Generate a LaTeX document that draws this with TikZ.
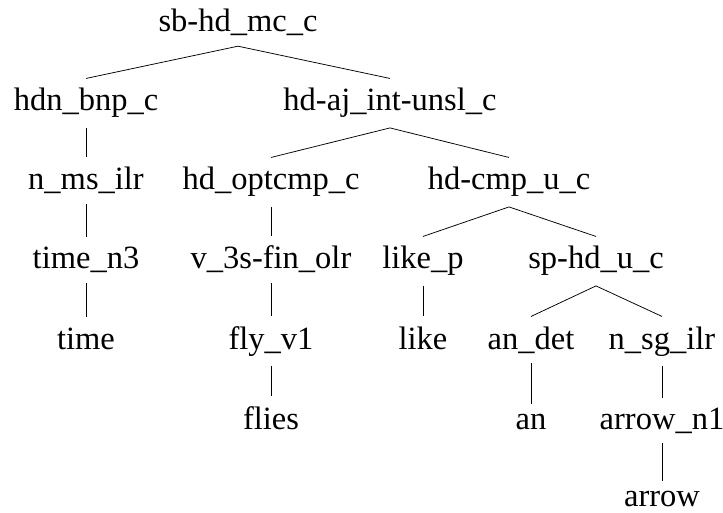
\documentclass[tikz,border=0pt]{standalone}
% Palatino (URW Palladio) when present, otherwise a Times-metric serif
\newif\ifpalladio
\IfFileExists{pplr8t.tfm}{\IfFileExists{uplr8a.pfb}{\palladiotrue}{}}{}
\ifpalladio
  \usepackage[T1]{fontenc}
  \renewcommand{\rmdefault}{ppl}
  \newcommand{\lblsize}{\fontsize{28.7}{34}\selectfont}
\else
  \usepackage{fontspec}
  \setmainfont{Liberation Serif}
  \newcommand{\lblsize}{\fontsize{32.5}{38}\selectfont}
\fi
\begin{document}
\begin{tikzpicture}[x=1pt,y=-1pt,
  lbl/.style={anchor=base, inner xsep=0pt, inner ysep=0pt,
    outer xsep=0pt, outer ysep=10pt, font=\lblsize},
  branch/.style={draw=black, line width=0.75pt}]
\useasboundingbox (0,0) rectangle (723,513);
% level 0
\node[lbl] (root) at (238,32) {sb-hd\_mc\_c};
% level 1
\node[lbl] (hdn) at (86,111) {hdn\_bnp\_c};
\node[lbl] (hdaj) at (390,111) {hd-aj\_int-unsl\_c};
% level 2
\node[lbl] (nms) at (86,190) {n\_ms\_ilr};
\node[lbl] (opt) at (271,190) {hd\_optcmp\_c};
\node[lbl] (cmp) at (509,190) {hd-cmp\_u\_c};
% level 3
\node[lbl] (timen) at (86,269) {time\_n3};
\node[lbl] (v3s) at (271,269) {v\_3s-fin\_olr};
\node[lbl] (likep) at (423,269) {like\_p};
\node[lbl] (sphd) at (596,269) {sp-hd\_u\_c};
% level 4
\node[lbl] (time) at (86,349) {time};
\node[lbl] (fly) at (271,349) {fly\_v1};
\node[lbl] (like) at (423,349) {like};
\node[lbl] (andet) at (531,349) {an\_det};
\node[lbl] (nsg) at (662,349) {n\_sg\_ilr};
% level 5
\node[lbl] (flies) at (271,429) {flies};
\node[lbl] (an) at (531,429) {an};
\node[lbl] (arrown) at (662,429) {arrow\_n1};
% level 6
\node[lbl] (arrow) at (662,506) {arrow};
% edges
\draw[branch] (root.south) -- (hdn.north);
\draw[branch] (root.south) -- (hdaj.north);
\draw[branch] (hdn.south) -- (nms.north);
\draw[branch] (nms.south) -- (timen.north);
\draw[branch] (timen.south) -- (time.north);
\draw[branch] (hdaj.south) -- (opt.north);
\draw[branch] (hdaj.south) -- (cmp.north);
\draw[branch] (opt.south) -- (v3s.north);
\draw[branch] (v3s.south) -- (fly.north);
\draw[branch] (fly.south) -- (flies.north);
\draw[branch] (cmp.south) -- (likep.north);
\draw[branch] (cmp.south) -- (sphd.north);
\draw[branch] (likep.south) -- (like.north);
\draw[branch] (sphd.south) -- (andet.north);
\draw[branch] (sphd.south) -- (nsg.north);
\draw[branch] (andet.south) -- (an.north);
\draw[branch] (nsg.south) -- (arrown.north);
\draw[branch] (arrown.south) -- (arrow.north);
\end{tikzpicture}
\end{document}
